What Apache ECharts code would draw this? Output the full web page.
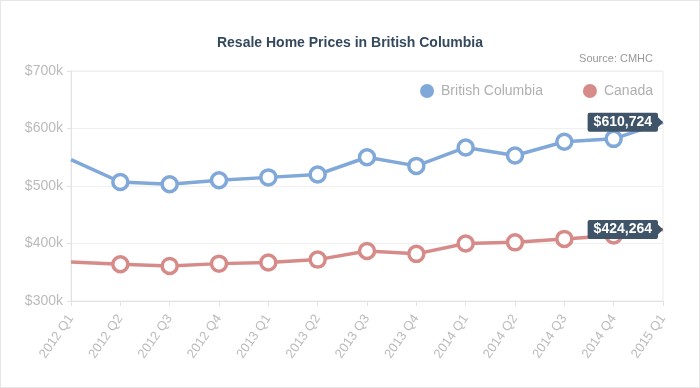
<!DOCTYPE html>
<html>
<head>
<meta charset="utf-8">
<script src="https://cdn.jsdelivr.net/npm/echarts@6/dist/echarts.min.js"></script>
<style>
html,body{margin:0;padding:0;background:#fff;}
#frame{position:absolute;left:0;top:0;width:698px;height:386px;border:1px solid #e6e6e6;}
#chart{position:absolute;left:0;top:0;width:700px;height:388px;}
</style>
</head>
<body>
<div id="frame"></div>
<div id="chart"></div>
<script>
const categories = ['2012 Q1','2012 Q2','2012 Q3','2012 Q4','2013 Q1','2013 Q2','2013 Q3','2013 Q4','2014 Q1','2014 Q2','2014 Q3','2014 Q4','2015 Q1'];
const bcValues = [546000,507000,503000,510000,515000,520000,550000,535000,567000,553000,577000,582000,610724];
const canadaValues = [368000,364000,361000,365000,367000,372000,387000,382000,400000,402000,408000,414000,424264];
const yTicks = [300000,400000,500000,600000,700000];

const FONT = '"Liberation Sans", Arial, Helvetica, sans-serif';
const BLUE = '#80a8d8';
const RED = '#d78b89';
const LABEL_BG = '#3f5468';

function fmt(v){ return '$' + v.toLocaleString('en-US'); }

function buildData(values){
  const last = values.length - 1;
  return values.map((v, i) => {
    const d = { value: v };
    if (i === 0) { d.symbol = 'none'; }
    if (i === last) {
      d.symbolSize = 0;
      d.label = {
        show: true, position: 'left', distance: 5,
        formatter: fmt(v),
        backgroundColor: LABEL_BG, color: '#fff',
        fontFamily: FONT, fontSize: 14, fontWeight: 'bold',
        padding: [3, 6, 2, 6], borderRadius: 2
      };
    }
    return d;
  });
}

function series(name, values, color){
  const last = values.length - 1;
  return {
    name: name, type: 'line', data: buildData(values),
    symbol: 'circle', symbolSize: 15, showAllSymbol: true,
    lineStyle: { color: color, width: 3.5 },
    itemStyle: { color: '#fff', borderColor: color, borderWidth: 3.5 },
    emphasis: { disabled: true },
    markPoint: {
      silent: true,
      symbol: 'triangle', symbolRotate: -90, symbolSize: [10, 5],
      symbolOffset: [-2.5, 0],
      itemStyle: { color: LABEL_BG },
      label: { show: false },
      data: [{ coord: [categories[last], values[last]] }]
    },
    z: 3
  };
}

const chart = echarts.init(document.getElementById('chart'));
chart.setOption({
  animation: false,
  backgroundColor: 'transparent',
  title: [
    { text: 'Resale Home Prices in British Columbia', left: 'center', top: 31,
      textStyle: { fontFamily: FONT, fontSize: 14, fontWeight: 'bold', color: '#34495e' } },
    { text: 'Source: CMHC', right: 42, top: 48,
      textStyle: { fontFamily: FONT, fontSize: 11, fontWeight: 'normal', color: '#999' } }
  ],
  legend: {
    right: 42, top: 79, icon: 'circle', itemWidth: 14, itemHeight: 14, itemGap: 40,
    textStyle: { fontFamily: FONT, fontSize: 14, color: '#b0b0b0', padding: [0,0,0,2] },
    data: [
      { name: 'British Columbia', itemStyle: { color: BLUE, borderWidth: 0 } },
      { name: 'Canada', itemStyle: { color: RED, borderWidth: 0 } }
    ]
  },
  grid: { left: 71, right: 37, top: 71, bottom: 87, show: true, borderColor: '#ececec', borderWidth: 1 },
  xAxis: {
    type: 'category', data: categories, boundaryGap: false,
    axisLine: { lineStyle: { color: '#e2e2e2', width: 1 } },
    axisTick: { show: true, alignWithLabel: true, length: 5, lineStyle: { color: '#e2e2e2' } },
    axisLabel: { rotate: 55, fontFamily: FONT, fontSize: 13, color: '#bbb', margin: 15 },
    splitLine: { show: false }
  },
  yAxis: {
    type: 'value', min: yTicks[0], max: yTicks[yTicks.length - 1], interval: 100000,
    axisLine: { show: true, lineStyle: { color: '#e2e2e2' } },
    axisTick: { show: true, length: 4, lineStyle: { color: '#e2e2e2' } },
    axisLabel: { fontFamily: FONT, fontSize: 14, color: '#bbb', margin: 8,
      formatter: v => '$' + (v / 1000) + 'k' },
    splitLine: { lineStyle: { color: '#f0f0f0' } }
  },
  series: [
    series('British Columbia', bcValues, BLUE),
    series('Canada', canadaValues, RED)
  ]
});
</script>
</body>
</html>
